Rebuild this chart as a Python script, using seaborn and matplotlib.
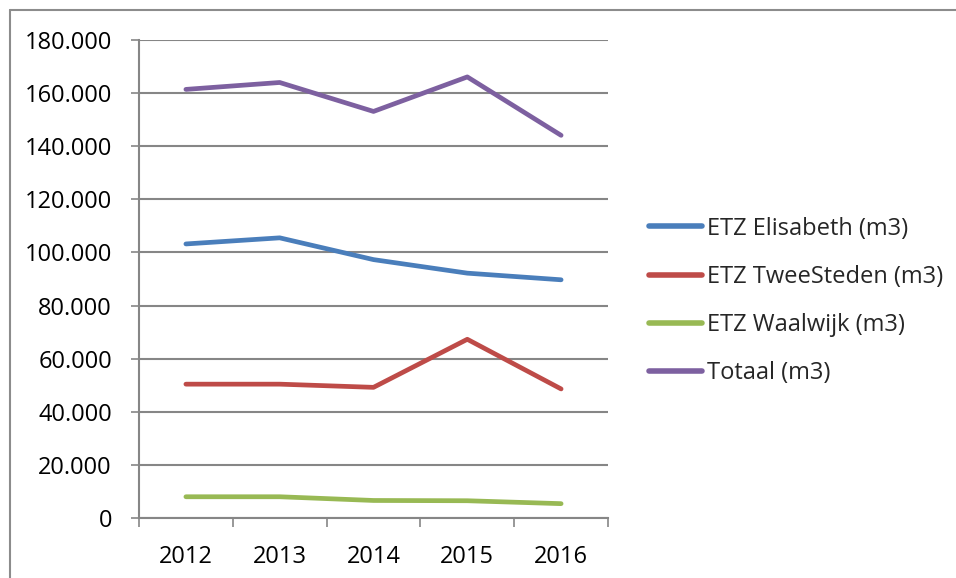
import matplotlib
matplotlib.use("Agg")
import matplotlib.pyplot as plt
import seaborn as sns
import pandas as pd
from matplotlib.lines import Line2D
from matplotlib.ticker import FixedLocator, FuncFormatter

years = ["2012", "2013", "2014", "2015", "2016"]
elisabeth = [103200, 105500, 97300, 92200, 89700]
tweesteden = [50400, 50400, 49200, 67300, 48600]
waalwijk = [8000, 8000, 6600, 6500, 5400]
totaal = [161400, 164000, 153100, 166100, 144100]
series_names = ["ETZ Elisabeth (m3)", "ETZ TweeSteden (m3)", "ETZ Waalwijk (m3)", "Totaal (m3)"]
colors = ["#4A7EBB", "#BE4B48", "#98B954", "#7D60A0"]

rows = []
for name, vals in zip(series_names, [elisabeth, tweesteden, waalwijk, totaal]):
    for i, v in enumerate(vals):
        rows.append({"pos": i, "year": years[i], "value": v, "series": name})
df = pd.DataFrame(rows)

sns.set_theme(style="white")
plt.rcParams["font.family"] = ["Open Sans", "DejaVu Sans"]

W, H = 956, 578
fig = plt.figure(figsize=(W / 100, H / 100), dpi=100)
ax = fig.add_axes([139 / W, 1 - 518 / H, (608 - 139) / W, (518 - 40) / H])

sns.lineplot(data=df, x="pos", y="value", hue="series", hue_order=series_names,
             palette=colors, linewidth=3.4, ax=ax, legend=False,
             solid_capstyle="round", solid_joinstyle="round")

grid_c = "#868686"
ax.set_xlim(-0.5, 4.5)
ax.set_ylim(0, 180000)
ax.set_yticks(range(0, 180001, 20000))
ax.yaxis.set_major_formatter(FuncFormatter(lambda v, p: f"{int(v):,}".replace(",", ".")))
ax.yaxis.grid(True, color=grid_c, linewidth=1.5)
ax.set_axisbelow(True)

ax.xaxis.set_major_locator(FixedLocator([-0.5, 0.5, 1.5, 2.5, 3.5, 4.5]))
ax.xaxis.set_minor_locator(FixedLocator(list(range(len(years)))))
ax.set_xticklabels([""] * 6)
ax.set_xticklabels(years, minor=True)
ax.tick_params(axis="x", which="major", length=6.5, width=1.2, color=grid_c, direction="out", bottom=True)
ax.tick_params(axis="x", which="minor", length=0, pad=19.5, labelsize=17, labelcolor="black", bottom=True)
ax.tick_params(axis="y", length=6, width=1.2, color=grid_c, direction="out", pad=13.5, labelsize=17,
               labelcolor="black", left=True)
ax.set_xlabel("")
ax.set_ylabel("")
for s in ["top", "right"]:
    ax.spines[s].set_visible(False)
for s in ["left", "bottom"]:
    ax.spines[s].set_color(grid_c)
    ax.spines[s].set_linewidth(1.5)

handles = [Line2D([0], [0], color=c, linewidth=4.0, solid_capstyle="round") for c in colors]
fig.legend(handles, series_names, loc="center left", bbox_to_anchor=(649 / W, 1 - 301 / H),
           frameon=False, fontsize=17, handlelength=2.25, handletextpad=0.22,
           labelspacing=1.03, borderpad=0, borderaxespad=0)

# outer chart frame
fig.add_artist(Line2D([9.5 / W, 9.5 / W], [0, 1 - 10 / H], color="#8c8c8c", linewidth=1.5,
                      transform=fig.transFigure))
fig.add_artist(Line2D([9.5 / W, 1], [1 - 10 / H, 1 - 10 / H], color="#8c8c8c", linewidth=1.5,
                      transform=fig.transFigure))

fig.savefig("out.png", dpi=100)
